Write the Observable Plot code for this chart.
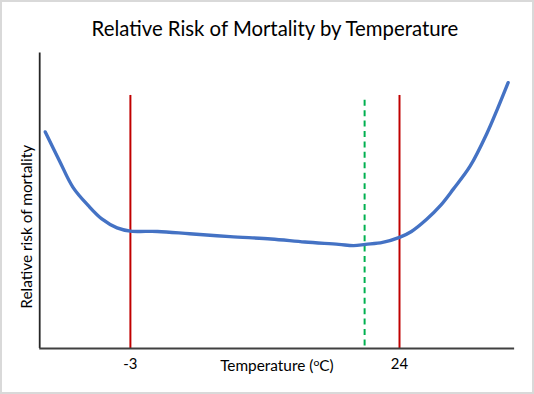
<!DOCTYPE html>
<html>
<head>
<meta charset="utf-8">
<script src="https://cdn.jsdelivr.net/npm/d3@7"></script>
<script src="https://cdn.jsdelivr.net/npm/@observablehq/plot@0.6"></script>
<style>
  html, body { margin: 0; padding: 0; background: #fff; }
  #frame { width: 534px; height: 394px; box-sizing: border-box; border: 2px solid #d9d9d9; position: relative; overflow: hidden; }
  #frame svg { position: absolute; left: -2px; top: -2px; }
</style>
</head>
<body>
<div id="frame"></div>
<script>
// Data
const title = "Relative Risk of Mortality by Temperature";
const yLabel = "Relative risk of mortality";
const xLabelMain = "Temperature (";
const xLabelSup = "o";
const xLabelEnd = "C)";
const temperature = [-11.54, -10.11, -8.76, -7.22, -5.87, -4.34, -3, -0.28, 2.94, 7.0, 11.1, 14.5, 17.9, 19.4, 20.6, 22.3, 24.0, 25.2, 26.7, 28.1, 29.4, 31.1, 32.8, 33.8, 34.9];
const risk = [2.20, 1.905, 1.637, 1.451, 1.317, 1.226, 1.193, 1.189, 1.166, 1.136, 1.113, 1.082, 1.058, 1.045, 1.058, 1.078, 1.129, 1.189, 1.310, 1.451, 1.619, 1.854, 2.191, 2.426, 2.70];
const thresholds = [-3, 24];        // red vertical lines
const thresholdTop = 2.57;
const optimum = [20.5];             // green dashed line (minimum-mortality temperature)
const optimumTop = 2.546;
const optimumBottom = 0.027;
const tickValues = [-3, 24];
const xDomain = [-12.1, 35.55];
const yDomain = [0, 3];

const curve = temperature.map((t, i) => ({t, r: risk[i]}));

const font = "Lato, 'Noto Sans', sans-serif";

const svg = Plot.plot({
  width: 534,
  height: 394,
  marginLeft: 39.5,
  marginRight: 16,
  marginTop: 53,
  marginBottom: 43.3,
  style: {fontFamily: font, background: "transparent", color: "#000"},
  x: {domain: xDomain},
  y: {domain: yDomain},
  marks: [
    Plot.axisX({ticks: tickValues, tickSize: 0, tickPadding: 10, fontSize: 15, label: null, tickFormat: d => d < 0 ? "-" + Math.abs(d) : String(d)}),
    Plot.axisY({ticks: [], label: null, tickSize: 0}),
    Plot.ruleX(thresholds, {y1: 0, y2: thresholdTop, stroke: "#C00000", strokeWidth: 2}),
    Plot.ruleX(optimum, {y1: optimumBottom, y2: optimumTop, stroke: "#00B050", strokeWidth: 2, strokeDasharray: "6,4.5"}),
    Plot.line(curve, {x: "t", y: "r", stroke: "#4472C4", strokeWidth: 3.4, curve: "catmull-rom"}),
    Plot.ruleX([xDomain[0]], {y1: yDomain[0], y2: yDomain[1], stroke: "#262626", strokeWidth: 1.8}),
    Plot.ruleY([yDomain[0]], {x1: xDomain[0], x2: xDomain[1], stroke: "#404040", strokeWidth: 2})
  ]
});

const s = d3.select(svg);
s.append("text")
  .attr("x", 277).attr("y", 36)
  .attr("text-anchor", "middle")
  .attr("font-family", font)
  .attr("font-size", 20.5)
  .attr("fill", "#000")
  .text(title);

s.append("text")
  .attr("transform", "translate(32,228.5) rotate(-90)")
  .attr("text-anchor", "middle")
  .attr("font-family", font)
  .attr("font-size", 15.5)
  .attr("fill", "#000")
  .text(yLabel);

const xl = s.append("text")
  .attr("x", 279).attr("y", 374)
  .attr("text-anchor", "middle")
  .attr("font-family", font)
  .attr("font-size", 15.5)
  .attr("fill", "#000");
xl.append("tspan").text(xLabelMain);
xl.append("tspan").attr("font-size", 10.5).attr("dy", -5).text(xLabelSup);
xl.append("tspan").attr("dy", 5).text(xLabelEnd);

document.getElementById("frame").appendChild(svg);
</script>
</body>
</html>
